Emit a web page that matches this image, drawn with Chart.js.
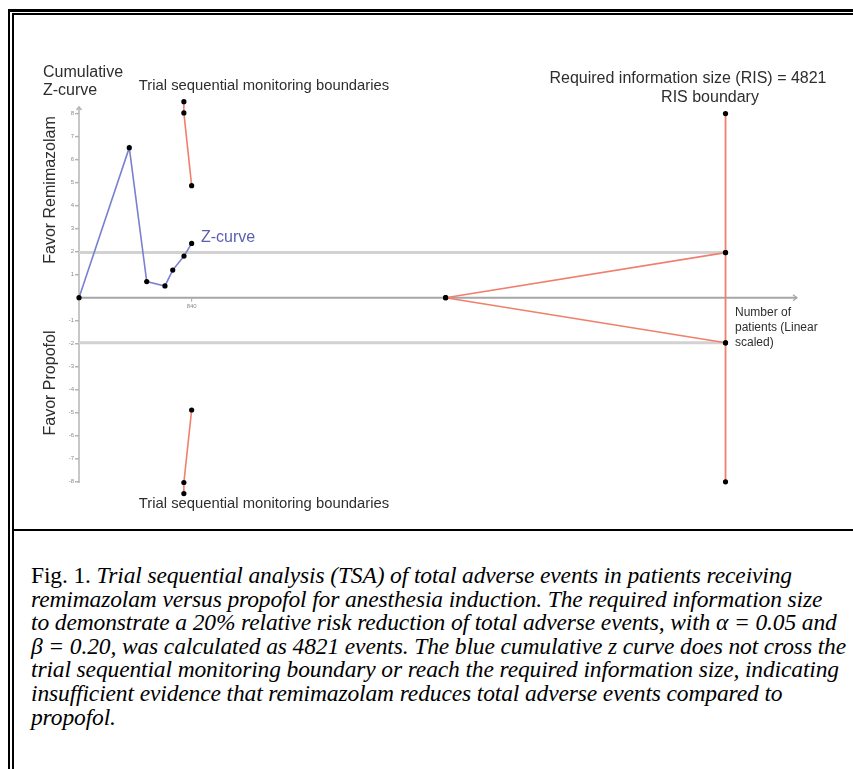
<!DOCTYPE html>
<html>
<head>
<meta charset="utf-8">
<script src="https://cdn.jsdelivr.net/npm/chart.js@4.4.1/dist/chart.umd.min.js"></script>
<style>
  html, body { margin: 0; padding: 0; background: #fff; }
  body { width: 853px; height: 769px; position: relative; overflow: hidden; }
  #c { position: absolute; left: 0; top: 0; }
  .bar { position: absolute; background: #000; }
  #caption {
    position: absolute; left: 31px; top: 564px;
    font-family: "Liberation Serif", "Times New Roman", serif;
    font-size: 23.5px; line-height: 23.6px; color: #000; white-space: nowrap;
  }
  #caption i { font-style: italic; }
</style>
</head>
<body>
<canvas id="c" width="853" height="527"></canvas>
<div class="bar" style="left:8px;top:9px;width:845px;height:3px"></div>
<div class="bar" style="left:12px;top:13px;width:841px;height:2px"></div>
<div class="bar" style="left:8px;top:9px;width:2px;height:760px"></div>
<div class="bar" style="left:12px;top:13px;width:2px;height:756px"></div>
<div class="bar" style="left:12px;top:529px;width:841px;height:2px"></div>
<div id="caption">
<div class="ln">Fig. 1. <i>Trial sequential analysis (TSA) of total adverse events in patients receiving</i></div>
<div class="ln"><i>remimazolam versus propofol for anesthesia induction. The required information size</i></div>
<div class="ln" id="ref"><i>to demonstrate a 20% relative risk reduction of total adverse events, with α = 0.05 and</i></div>
<div class="ln"><i>β = 0.20, was calculated as 4821 events. The blue cumulative z curve does not cross the</i></div>
<div class="ln"><i>trial sequential monitoring boundary or reach the required information size, indicating</i></div>
<div class="ln"><i>insufficient evidence that remimazolam reduces total adverse events compared to</i></div>
<div class="ln"><i>propofol.</i></div>
</div>
<script>
// ---- data ----
const zCurveN = [0, 375, 505, 641, 699, 783, 840];
const zCurveZ = [0, 6.52, 0.70, 0.51, 1.20, 1.81, 2.36];
const upperBoundN = [782, 782, 840];
const upperBoundZ = [8.52, 8.03, 4.87];
const lowerBoundN = [782, 782, 840];
const lowerBoundZ = [-8.51, -8.03, -4.88];
const wedgeN = [2734, 4821];
const wedgeUpperZ = [0, 1.96];
const wedgeLowerZ = [0, -1.96];
const risN = [4821, 4821, 4821, 4821];
const risZ = [8, 1.96, -1.96, -8];
const conventionalN = [0, 4821];
const conventionalUpperZ = [1.96, 1.96];
const conventionalLowerZ = [-1.96, -1.96];
const yTickValues = [-8, -7, -6, -5, -4, -3, -2, -1, 1, 2, 3, 4, 5, 6, 7, 8];
const yTickLabels = ['-8', '-7', '-6', '-5', '-4', '-3', '-2', '-1', '1', '2', '3', '4', '5', '6', '7', '8'];
const xTickValues = [840];
const xTickLabels = ['840'];
const xAxisMax = 5354;
const yAxisTop = 8.2;
const yAxisBottom = -8.05;

// fit caption width (layout only)
(function () {
  const ref = document.getElementById('ref');
  const w = ref.getBoundingClientRect().width;
  const chars = ref.textContent.length;
  const target = 846 - 31;
  const ls = (target - w) / chars;
  document.getElementById('caption').style.letterSpacing = ls.toFixed(3) + 'px';
})();

const zip = (xs, ys) => xs.map((x, i) => ({ x: x, y: ys[i] }));

const BLUE = '#7b80cf';
const RED = '#f07f6c';
const GREY = '#d2d2d2';

function lineDs(data, color, width, pts) {
  return {
    data: data, showLine: true, borderColor: color, borderWidth: width,
    pointRadius: pts ? 2.6 : 0, pointBackgroundColor: '#000', pointBorderColor: '#000',
    pointBorderWidth: 0, pointHoverRadius: 0, clip: false, tension: 0, fill: false
  };
}

const axesPlugin = {
  id: 'axes',
  beforeDatasetsDraw(chart) {
    const ctx = chart.ctx, xs = chart.scales.x, ys = chart.scales.y;
    const x0 = xs.getPixelForValue(0), y0 = ys.getPixelForValue(0);
    const xEnd = xs.getPixelForValue(xAxisMax);
    const yTop = ys.getPixelForValue(yAxisTop), yBot = ys.getPixelForValue(yAxisBottom);
    ctx.save();
    ctx.strokeStyle = '#b4b4b4'; ctx.lineWidth = 1.5;
    ctx.beginPath(); ctx.moveTo(x0, yTop - 2); ctx.lineTo(x0, yBot); ctx.stroke();
    ctx.beginPath(); ctx.moveTo(x0 - 2.5, yTop + 1); ctx.lineTo(x0, yTop - 2); ctx.lineTo(x0 + 2.5, yTop + 1); ctx.stroke();
    ctx.fillStyle = '#8a8a8a'; ctx.font = '6px "Liberation Sans", Arial, sans-serif';
    ctx.textAlign = 'right'; ctx.textBaseline = 'middle';
    yTickValues.forEach((v, i) => {
      const py = ys.getPixelForValue(v);
      ctx.beginPath(); ctx.moveTo(x0 - 4, py); ctx.lineTo(x0, py); ctx.stroke();
      ctx.fillText(yTickLabels[i], x0 - 5, py);
    });
    ctx.strokeStyle = '#a6a6a6'; ctx.lineWidth = 2;
    ctx.beginPath(); ctx.moveTo(x0, y0); ctx.lineTo(xEnd, y0); ctx.stroke();
    ctx.lineWidth = 1.2;
    ctx.beginPath(); ctx.moveTo(xEnd - 4, y0 - 3); ctx.lineTo(xEnd, y0); ctx.lineTo(xEnd - 4, y0 + 3); ctx.stroke();
    ctx.textAlign = 'center'; ctx.textBaseline = 'middle';
    xTickValues.forEach((v, i) => {
      const px = xs.getPixelForValue(v);
      ctx.lineWidth = 1;
      ctx.beginPath(); ctx.moveTo(px, y0 + 1); ctx.lineTo(px, y0 + 4); ctx.stroke();
      ctx.fillText(xTickLabels[i], px, y0 + 9);
    });
    ctx.restore();
  },
  afterDraw(chart) {
    const ctx = chart.ctx;
    ctx.save();
    ctx.fillStyle = '#2e2e2e';
    ctx.textBaseline = 'middle';
    const f = (s) => s + 'px "Liberation Sans", Arial, sans-serif';
    ctx.textAlign = 'left';
    ctx.font = f(16);
    ctx.fillText('Cumulative', 43, 73);
    ctx.fillText('Z-curve', 43, 91);
    ctx.textAlign = 'center';
    ctx.font = f(14.8);
    ctx.fillText('Trial sequential monitoring boundaries', 264, 86);
    ctx.fillText('Trial sequential monitoring boundaries', 264, 504);
    ctx.font = f(16);
    ctx.fillText('Required information size (RIS) = 4821', 688, 79);
    ctx.fillText('RIS boundary', 710, 98);
    ctx.textAlign = 'left';
    ctx.font = f(12);
    ctx.fillText('Number of', 735, 313);
    ctx.fillText('patients (Linear', 735, 328);
    ctx.fillText('scaled)', 735, 343);
    ctx.font = f(16);
    ctx.fillStyle = '#5a5fb3';
    ctx.fillText('Z-curve', 201, 238);
    ctx.fillStyle = '#2e2e2e';
    ctx.textAlign = 'center';
    ctx.save(); ctx.translate(51, 190); ctx.rotate(-Math.PI / 2);
    ctx.fillText('Favor Remimazolam', 0, 0); ctx.restore();
    ctx.save(); ctx.translate(51, 383); ctx.rotate(-Math.PI / 2);
    ctx.fillText('Favor Propofol', 0, 0); ctx.restore();
    ctx.restore();
  }
};

new Chart(document.getElementById('c'), {
  type: 'scatter',
  data: {
    datasets: [
      lineDs(zip(zCurveN, zCurveZ), BLUE, 1.6, true),
      lineDs(zip(upperBoundN, upperBoundZ), RED, 1.6, true),
      lineDs(zip(lowerBoundN, lowerBoundZ), RED, 1.6, true),
      lineDs(zip(wedgeN, wedgeUpperZ), RED, 1.6, true),
      lineDs(zip(wedgeN, wedgeLowerZ), RED, 1.6, true),
      lineDs(zip(risN, risZ), RED, 1.8, true),
      lineDs(zip(conventionalN, conventionalUpperZ), GREY, 3, false),
      lineDs(zip(conventionalN, conventionalLowerZ), GREY, 3, false)
    ]
  },
  options: {
    responsive: false, animation: false, events: [],
    layout: { padding: { left: 79, right: 56, top: 97.5, bottom: 29.1 } },
    plugins: { legend: { display: false }, tooltip: { enabled: false } },
    scales: {
      x: { type: 'linear', min: 0, max: xAxisMax, display: false },
      y: { type: 'linear', min: -8.7, max: 8.7, display: false }
    }
  },
  plugins: [axesPlugin]
});
</script>
</body>
</html>
